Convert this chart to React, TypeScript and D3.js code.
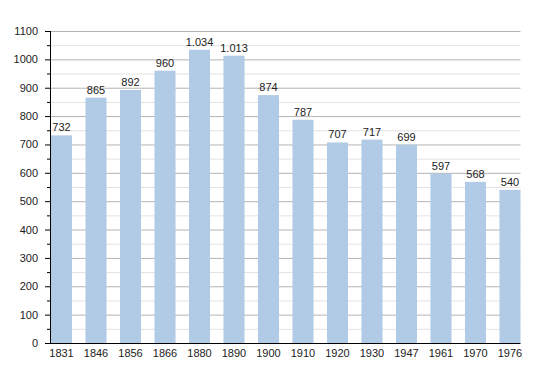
import React, { useEffect, useRef } from "react";
import * as d3 from "d3";

const years = ["1831", "1846", "1856", "1866", "1880", "1890", "1900", "1910", "1920", "1930", "1947", "1961", "1970", "1976"];
const population = [732, 865, 892, 960, 1034, 1013, 874, 787, 707, 717, 699, 597, 568, 540];
const yTicks = [0, 100, 200, 300, 400, 500, 600, 700, 800, 900, 1000, 1100];

const App: React.FC = () => {
  const svgRef = useRef<SVGSVGElement>(null);

  useEffect(() => {
    if (!svgRef.current) return;
    const svg = d3.select(svgRef.current);
    svg.selectAll("*").remove();

    const left = 50;
    const right = 520.5;
    const top = 31;
    const bottom = 343;

    const x = d3.scaleBand<string>().domain(years).range([51, right]).paddingInner(0.39).paddingOuter(0);
    const y = d3.scaleLinear().domain([0, 1100]).range([bottom, top]);

    const minor = d3.range(50, 1100, 100);

    // gridlines
    svg.append("g")
      .selectAll("line")
      .data(minor)
      .enter()
      .append("line")
      .attr("x1", left)
      .attr("x2", right)
      .attr("y1", (d) => y(d) + 0.5)
      .attr("y2", (d) => y(d) + 0.5)
      .attr("stroke", "#e2e2e2");

    svg.append("g")
      .selectAll("line")
      .data(yTicks.filter((d) => d > 0))
      .enter()
      .append("line")
      .attr("x1", left)
      .attr("x2", right)
      .attr("y1", (d) => y(d) + 0.5)
      .attr("y2", (d) => y(d) + 0.5)
      .attr("stroke", "#b4b4b4");

    // bars
    svg.append("g")
      .selectAll("rect")
      .data(population)
      .enter()
      .append("rect")
      .attr("x", (_, i) => x(years[i])!)
      .attr("y", (d) => y(d))
      .attr("width", x.bandwidth())
      .attr("height", (d) => bottom - y(d))
      .attr("fill", "#b1cae5");

    const fmt = (v: number) => d3.format(",")(v).replace(",", ".");

    svg.append("g")
      .selectAll("text")
      .data(population)
      .enter()
      .append("text")
      .attr("x", (_, i) => x(years[i])! + x.bandwidth() / 2)
      .attr("y", (d) => y(d) - 4)
      .attr("text-anchor", "middle")
      .attr("font-family", "Liberation Sans, Arial, sans-serif")
      .attr("font-size", 11)
      .attr("fill", "#222")
      .text((d) => fmt(d));

    // axes
    const axisG = svg.append("g");
    axisG.append("line")
      .attr("x1", left + 0.5).attr("x2", left + 0.5)
      .attr("y1", top).attr("y2", bottom + 0.5)
      .attr("stroke", "#000");
    axisG.append("line")
      .attr("x1", left).attr("x2", right)
      .attr("y1", bottom + 0.5).attr("y2", bottom + 0.5)
      .attr("stroke", "#000");

    axisG.selectAll("line.major")
      .data(yTicks)
      .enter()
      .append("line")
      .attr("class", "major")
      .attr("x1", left - 5).attr("x2", left)
      .attr("y1", (d) => y(d) + 0.5).attr("y2", (d) => y(d) + 0.5)
      .attr("stroke", "#000");

    axisG.selectAll("line.minor")
      .data(minor)
      .enter()
      .append("line")
      .attr("class", "minor")
      .attr("x1", left - 3).attr("x2", left)
      .attr("y1", (d) => y(d) + 0.5).attr("y2", (d) => y(d) + 0.5)
      .attr("stroke", "#000");

    axisG.selectAll("text.ylab")
      .data(yTicks)
      .enter()
      .append("text")
      .attr("class", "ylab")
      .attr("x", 38)
      .attr("y", (d) => y(d) + 4)
      .attr("text-anchor", "end")
      .attr("font-family", "Liberation Sans, Arial, sans-serif")
      .attr("font-size", 11)
      .attr("fill", "#222")
      .text((d) => String(d));

    axisG.selectAll("text.xlab")
      .data(years)
      .enter()
      .append("text")
      .attr("class", "xlab")
      .attr("x", (d) => x(d)! + x.bandwidth() / 2)
      .attr("y", 357)
      .attr("text-anchor", "middle")
      .attr("font-family", "Liberation Sans, Arial, sans-serif")
      .attr("font-size", 11)
      .attr("fill", "#222")
      .text((d) => d);
  }, []);

  return (
    <svg
      ref={svgRef}
      width={550}
      height={373}
      style={{ position: "absolute", left: 0, top: 0, background: "#fff" }}
    />
  );
};

export default App;
